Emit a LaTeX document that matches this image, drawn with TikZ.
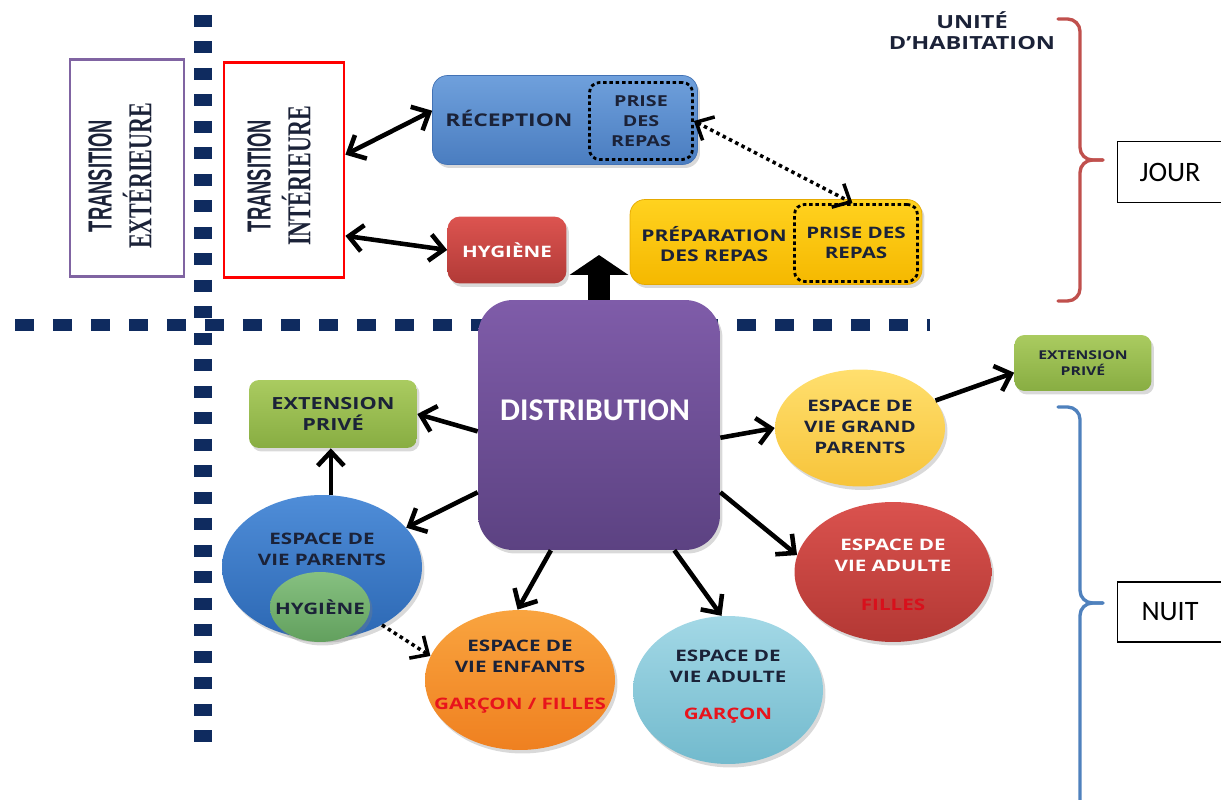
\documentclass[tikz,border=0pt]{standalone}
\usepackage{fontspec}
\setmainfont{Carlito}
\newfontfamily\boxfont[FakeStretch=1.3]{Open Sans}
\newfontfamily\narrowfont{Liberation Sans}
\newfontfamily\condfont{Liberation Serif}
\usepackage{tikz}
\usetikzlibrary{arrows.meta, shapes.geometric, positioning, calc, shadows}

\definecolor{ink}{HTML}{1B2238}
\definecolor{navy}{HTML}{0F2B5F}
\definecolor{transpurple}{HTML}{8064A2}
\definecolor{transred}{HTML}{FF0000}
\definecolor{bracered}{HTML}{C0504D}
\definecolor{braceblue}{HTML}{4F81BD}
\definecolor{alertred}{HTML}{E8141C}
\definecolor{fillesred}{HTML}{D8101C}

\tikzset{
  room/.style={
    rectangle, rounded corners=0.25cm, inner sep=0pt,
    align=center, text=ink,
    font=\boxfont\bfseries\fontsize{9}{12}\selectfont,
    drop shadow={opacity=0.3, shadow xshift=0.05cm, shadow yshift=-0.07cm}
  },
  space/.style={
    ellipse, inner sep=0pt,
    drop shadow={opacity=0.3, shadow xshift=0.05cm, shadow yshift=-0.07cm}
  },
  lbl/.style={
    inner sep=0pt, align=center, text=ink,
    font=\boxfont\bfseries\fontsize{9}{12}\selectfont
  },
  prise/.style={
    rectangle, rounded corners=0.2cm, draw=black, line width=1.6pt,
    dash pattern=on 2pt off 1.6pt, inner sep=0pt,
    align=center, text=ink
  },
  trans/.style={
    rectangle, draw=#1, line width=1.6pt, fill=white
  },
  transtext/.style={
    rotate=90, inner sep=0pt, align=center, text=ink
  },
  period/.style={
    rectangle, draw=black, line width=0.6pt, fill=white,
    font=\fontsize{16}{18}\selectfont
  },
  arrow/.style={-{Straight Barb[length=8pt, width=15pt]}, line width=2.6pt, black},
  darrow/.style={{Straight Barb[length=8pt, width=15pt]}-{Straight Barb[length=8pt, width=15pt]}, line width=2.6pt, black},
  dotarrow/.style={arrow, line width=2pt, dash pattern=on 2pt off 2pt},
  uparrow/.style={-{Triangle[length=0.4cm, width=1.16cm]}, line width=0.44cm, black},
  hdiv/.style={navy, line width=0.24cm, dash pattern=on 0.38cm off 0.38cm},
  vdiv/.style={navy, line width=0.36cm, dash pattern=on 0.24cm off 0.29cm},
  brace/.style={draw=#1, line width=1.9pt, rounded corners=0.25cm, line cap=round}
}

\newcommand{\transline}[1]{\scalebox{0.55}[1]{\narrowfont\bfseries\fontsize{19}{22}\selectfont #1}}
\newcommand{\transword}[1]{\scalebox{0.66}[1]{\condfont\bfseries\fontsize{19}{22}\selectfont #1}}

\begin{document}
\begin{tikzpicture}[x=0.02cm, y=-0.02cm]
\useasboundingbox (0,0) rectangle (1221,800);

% navy dividers
\draw[hdiv] (15,325) -- (930,325);
\draw[vdiv] (203,15) -- (203,752);

% transitions
\node[trans=transpurple, minimum width=2.28cm, minimum height=4.34cm] (transExt) at (127,168) {};
\node[transtext] (transExtLbl) at (120,176) {\transline{TRANSITION}\\[5pt]\transword{EXTÉRIEURE}};
\node[trans=transred, minimum width=2.4cm, minimum height=4.3cm] (transInt) at (284,170) {};
\node[transtext] (transIntLbl) at (279,176) {\transline{TRANSITION}\\[5pt]\transword{INTÉRIEURE}};

% day zone
\node[room, rounded corners=0.3cm, top color={rgb,255:red,111;green,160;blue,220}, bottom color={rgb,255:red,74;green,125;blue,192},
      draw={rgb,255:red,66;green,114;blue,181}, minimum width=5.3cm, minimum height=1.78cm] (rec) at (565,120) {};
\node[lbl, font=\boxfont\bfseries\fontsize{10}{12}\selectfont] (recLbl) at (509,118) {RÉCEPTION};
\node[prise, minimum width=2.06cm, minimum height=1.54cm,
      font=\boxfont\bfseries\fontsize{8.6}{11.2}\selectfont] (recPrise) at (641,121) {PRISE\\DES\\REPAS};

\node[room, top color={rgb,255:red,220;green,84;blue,80}, bottom color={rgb,255:red,178;green,58;blue,55},
      text=white, minimum width=2.38cm, minimum height=1.34cm] (hyg) at (507,250) {HYGIÈNE};

\node[room, rounded corners=0.3cm, top color={rgb,255:red,255;green,210;blue,31}, bottom color={rgb,255:red,245;green,184;blue,0},
      draw={rgb,255:red,229;green,169;blue,0}, minimum width=5.84cm, minimum height=1.7cm] (prep) at (776,242) {};
\node[lbl, font=\boxfont\bfseries\fontsize{9.2}{11.5}\selectfont] (prepLbl) at (714,244) {PRÉPARATION\\DES REPAS};
\node[prise, minimum width=2.46cm, minimum height=1.54cm,
      font=\boxfont\bfseries\fontsize{9}{11}\selectfont] (prepPrise) at (856,243) {PRISE DES\\REPAS};

% distribution
\node[room, rounded corners=0.7cm, top color={rgb,255:red,127;green,92;blue,169}, bottom color={rgb,255:red,92;green,66;blue,130},
      minimum width=4.84cm, minimum height=5cm] (dist) at (599,425) {};
\node[lbl, text=white, font=\bfseries\fontsize{18}{20}\selectfont] (distLbl) at (595,410) {DISTRIBUTION};
\coordinate (upTip) at (599,255);

% night zone
\node[room, rounded corners=0.2cm, top color={rgb,255:red,170;green,203;blue,96}, bottom color={rgb,255:red,136;green,173;blue,66},
      minimum width=3.36cm, minimum height=1.36cm,
      font=\boxfont\bfseries\fontsize{9.5}{12}\selectfont] (extL) at (333,414) {EXTENSION\\PRIVÉ};
\node[room, rounded corners=0.2cm, top color={rgb,255:red,170;green,203;blue,96}, bottom color={rgb,255:red,136;green,173;blue,66},
      minimum width=2.74cm, minimum height=1.12cm,
      font=\boxfont\bfseries\fontsize{6.9}{9}\selectfont] (extR) at (1083,363) {EXTENSION\\PRIVÉ};

\node[space, top color={rgb,255:red,79;green,141;blue,216}, bottom color={rgb,255:red,44;green,104;blue,180},
      minimum width=4cm, minimum height=2.88cm] (parents) at (322,567) {};
\node[lbl] (parentsLbl) at (322,549) {ESPACE DE\\VIE PARENTS};
\node[space, drop shadow={opacity=0}, top color={rgb,255:red,134;green,192;blue,128}, bottom color={rgb,255:red,98;green,160;blue,94},
      minimum width=2cm, minimum height=1.4cm] (parentsHyg) at (320,607) {};
\node[lbl] (parentsHygLbl) at (320,607) {HYGIÈNE};

\node[space, top color={rgb,255:red,249;green,164;blue,63}, bottom color={rgb,255:red,239;green,128;blue,32},
      minimum width=3.8cm, minimum height=2.8cm] (enfants) at (520,680) {};
\node[lbl] (enfantsLbl) at (520,677) {ESPACE DE\\VIE ENFANTS\\[9pt]\textcolor{alertred}{GARÇON / FILLES}};
\node[space, top color={rgb,255:red,163;green,216;blue,230}, bottom color={rgb,255:red,114;green,186;blue,205},
      minimum width=3.8cm, minimum height=2.96cm] (adultG) at (728,690) {};
\node[lbl] (adultGLbl) at (728,687) {ESPACE DE\\VIE ADULTE\\[9pt]\textcolor{alertred}{GARÇON}};
\node[space, top color={rgb,255:red,218;green,82;blue,78}, bottom color={rgb,255:red,179;green,56;blue,52},
      minimum width=3.94cm, minimum height=2.8cm] (adultF) at (893,572) {};
\node[lbl, text=white] (adultFLbl) at (893,575) {ESPACE DE\\VIE ADULTE\\[10pt]\textcolor{fillesred}{FILLES}};
\node[space, top color={rgb,255:red,255;green,223;blue,110}, bottom color={rgb,255:red,247;green,196;blue,58},
      minimum width=3.4cm, minimum height=2.34cm] (gp) at (860,428) {};
\node[lbl] (gpLbl) at (860,427) {ESPACE DE\\VIE GRAND\\PARENTS};

% flow arrows
\draw[darrow] (transInt.14) -- (rec.176);
\draw[darrow] (transInt.-47) -- (hyg.west);
\draw[dotarrow, {Straight Barb[length=8pt, width=15pt]}-{Straight Barb[length=8pt, width=15pt]}] (recPrise.east) -- (prepPrise.95);
\draw[uparrow] (dist.north) -- (upTip);
\draw[arrow] (dist.183) -- (extL.east);
\draw[arrow] (dist.209) -- (parents.25);
\draw[arrow] (parents.83) -- (parents.83 |- extL.south);
\draw[dotarrow] (parents.316) -- (enfants.165);
\draw[arrow] (dist.249) -- (enfants.92);
\draw[arrow] (dist.301) -- (adultG.95);
\draw[arrow] (dist.331) -- (adultF.170);
\draw[arrow] (dist.354) -- (gp.west);
\draw[arrow] (gp.20) -- (extR.188);

% unit title and braces
\node[lbl, font=\boxfont\bfseries\fontsize{10.3}{12}\selectfont] (unite) at (972,31) {UNITÉ\\D’HABITATION};
\draw[brace=bracered] (1058,19) -- (1080,19) -- (1080,160) -- (1103,160);
\draw[brace=bracered] (1103,160) -- (1080,160) -- (1080,301) -- (1058,301);
\draw[brace=braceblue] (1058,407) -- (1080,407) -- (1080,603) -- (1103,603);
\draw[brace=braceblue] (1103,603) -- (1080,603) -- (1080,810);

\node[period, minimum width=2.1cm, minimum height=1.22cm] (jour) at (1170,172) {JOUR};
\node[period, minimum width=2.1cm, minimum height=1.2cm] (nuit) at (1170,612) {NUIT};

\end{tikzpicture}
\end{document}
